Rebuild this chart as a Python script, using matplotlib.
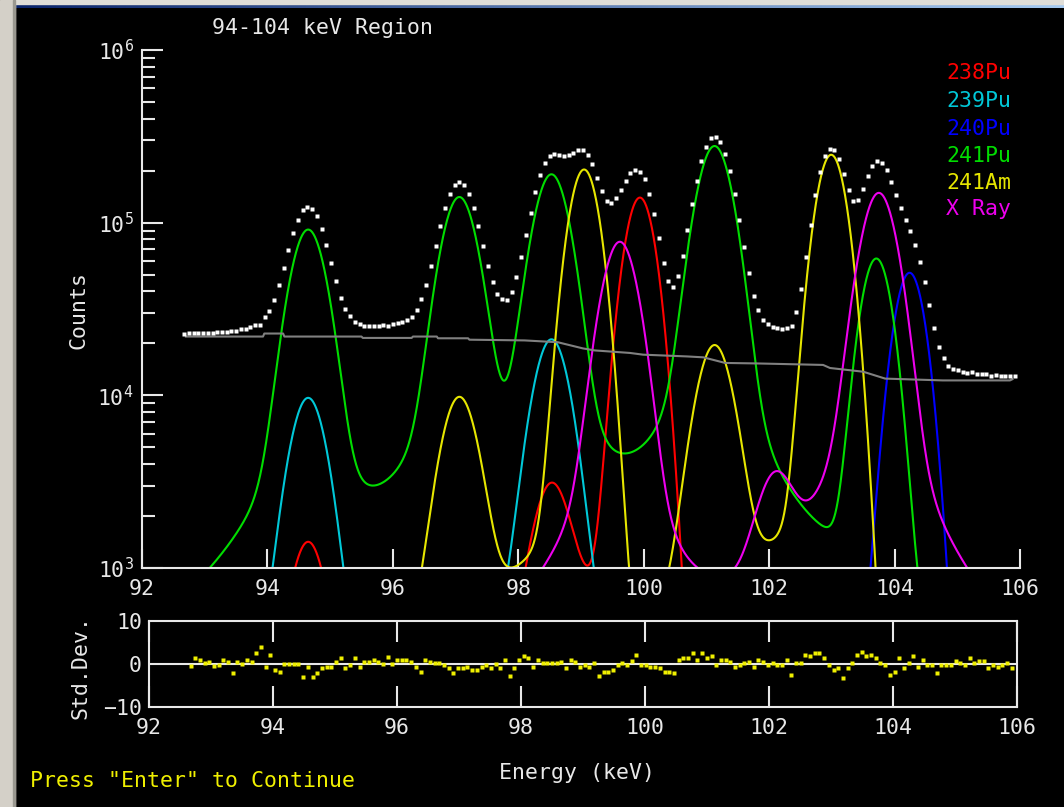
import math
import numpy as np
import matplotlib.pyplot as plt
from matplotlib.patches import Rectangle
from matplotlib.colors import LinearSegmentedColormap
from matplotlib.ticker import LogLocator, NullFormatter

plt.rcParams['font.family'] = ['DejaVu Sans Mono', 'DejaVu Sans']

# Fitted peak components read off the display: energy (keV), peak counts,
# natural (Lorentzian) width in keV -- 0 for gamma lines, K x-rays are wider
pu238_e = [94.65, 98.53, 99.94]
pu238_h = [1.40e3, 2.70e3, 1.39e5]
pu238_w = [0.07, 0.07, 0.0]

pu239_e = [94.65, 98.53]
pu239_h = [9.6e3, 2.10e4]
pu239_w = [0.07, 0.07]

pu240_e = [104.24]
pu240_h = [5.1e4]
pu240_w = [0.0]

pu241_e = [94.65, 97.06, 98.53, 101.13, 103.71]
pu241_h = [9.0e4, 1.38e5, 1.88e5, 2.76e5, 6.1e4]
pu241_w = [0.07, 0.07, 0.07, 0.07, 0.0]

am241_e = [97.06, 99.05, 101.13, 102.99]
am241_h = [9.4e3, 2.02e5, 1.90e4, 2.46e5]
am241_w = [0.07, 0.0, 0.07, 0.0]

xray_e = [99.62, 102.10, 103.75]
xray_h = [7.7e4, 2.4e3, 1.48e5]
xray_w = [0.07, 0.07, 0.07]

# continuum under the peaks (grey line)
bg_e = [92.70, 93.93, 93.95, 94.25, 94.27, 95.50, 95.52, 96.30, 96.32, 96.70, 96.72,
        97.20, 97.22, 98.10, 98.63, 99.03, 99.22, 99.78, 99.99, 100.69, 100.95,
        101.30, 101.81, 102.86, 102.97, 103.50, 103.85, 104.77, 105.84, 105.88]
bg_c = [21900, 21900, 22800, 22800, 21900, 21900, 21500, 21500, 21900, 21900, 21400,
        21400, 21000, 20800, 20300, 18700, 18200, 17600, 17200, 16800, 16600,
        15400, 15300, 15000, 14400, 13700, 12500, 12200, 12200, 12400]

# fit residuals per channel (std. dev.)
resid = [-0.4, 1.4, 1.0, 0.2, 0.5, -0.4, -0.2, 1.0, 0.4, -2.0, 0.4, 0.1, 1.0, 0.5, 2.5,
         4.0, -0.6, 2.1, -1.4, -1.8, 0.1, 0.1, 0.1, 0.1, -3.0, -0.6, -3.0, -2.2, -1.0, -0.6,
         -0.6, 0.5, 1.3, -1.0, -0.2, 1.3, -0.6, 0.4, 0.5, 1.0, 0.5, 0.1, 1.7, 0.1,
         1.0, 1.0, 1.0, 0.5, -0.6, -1.8, 1.0, 0.4, 0.2, 0.2, -0.2, -1.0, -2.2, -1.0, -1.0,
         -0.6, -1.4, -1.4, -0.6, -0.2, -1.0, 0.1, -1.0, 1.0, -2.9, -1.0, 1.0, 1.8, 1.4, -0.6,
         1.0, 0.2, 0.2, 0.2, 0.2, 0.5, -1.0, 1.0, 0.5, -0.6, -0.2, -0.6, 0.2, -2.9, -1.8, -1.8,
         -1.4, -0.2, 0.2, -0.2, 0.6, 2.2, -0.2, -0.2, -0.6, -0.6, -1.0, -1.8, -1.8, -2.2, 1.0,
         1.5, 1.3, 2.6, 1.0, 2.6, 1.3, 1.8, -0.2, 1.0, 1.0, 0.5, -0.6, -0.2, 0.2, 0.5,
         -0.6, 1.0, 0.5, -0.2, 0.2, -0.2, -0.2, 1.0, -2.5, 0.2, 0.2, 2.1, 1.8, 2.6, 2.6, 1.4,
         -0.2, -1.4, -1.0, -3.3, -1.0, 0.2, 2.2, 2.9, 1.8, 2.2, 1.4, 0.2, -0.2, -2.5, -1.8,
         1.4, -1.0, 0.2, 1.8, -0.6, 1.0, -0.2, -0.2, -2.1, -0.2, -0.2, -0.2, 0.6, 0.2, -0.2,
         1.4, 0.2, 0.6, 0.6, -1.0, -0.2, -0.6, -0.2, 0.2, -1.0]

E0 = 92.67      # first channel energy
DE = 0.0757     # keV per channel

# detector response
FWHM_GAMMA = 0.50
FWHM_XRAY_G = 0.55
TAIL_AMP = 0.012
TAIL_SLOPE = 1.0

erf = np.vectorize(math.erf)


def peak(x, c, h, wl):
    d = x - c
    if wl > 0:
        fg = FWHM_XRAY_G
        f = (fg**5 + 2.69269*fg**4*wl + 2.42843*fg**3*wl**2 + 4.47163*fg**2*wl**3
             + 0.07842*fg*wl**4 + wl**5) ** 0.2
        r = wl / f
        eta = 1.36603*r - 0.47719*r**2 + 0.11116*r**3
    else:
        f = FWHM_GAMMA
        eta = 0.0
    core = eta / (1 + (2*d/f)**2) + (1 - eta) * np.exp(-4*np.log(2)*d**2/f**2)
    s = FWHM_GAMMA / 2.3548
    z = d/(np.sqrt(2)*s) + s/(np.sqrt(2)*TAIL_SLOPE)
    tail = TAIL_AMP * np.exp(np.minimum(d, 5)/TAIL_SLOPE) * 0.5 * (1 - erf(z))
    return h * (core + tail)


def component(x, es, hs, ws):
    return sum(peak(x, e, h, w) for e, h, w in zip(es, hs, ws))


comps = [
    ('238Pu', '#ff0000', pu238_e, pu238_h, pu238_w),
    ('239Pu', '#00c8d8', pu239_e, pu239_h, pu239_w),
    ('240Pu', '#0000ff', pu240_e, pu240_h, pu240_w),
    ('241Pu', '#00dd00', pu241_e, pu241_h, pu241_w),
    ('241Am', '#e6e600', am241_e, am241_h, am241_w),
    ('X Ray', '#ee00ee', xray_e, xray_h, xray_w),
]

chan = E0 + DE*np.arange(len(resid))
x_fine = np.arange(chan[0], chan[-1], 0.005)

model = np.interp(chan, bg_e, bg_c)
for _, _, es, hs, ws in comps:
    model = model + component(chan, es, hs, ws)
data = model + np.array(resid)*np.sqrt(model)

W, H = 1064, 807
fig = plt.figure(figsize=(W/100, H/100), dpi=100, facecolor='black')

fg_col = '#e8e8e8'
fs = 15.5

# main spectrum panel
ax = fig.add_axes([142/W, 1 - 568/H, 878/W, 518/H])
ax.set_facecolor('black')
ax.set_yscale('log')
ax.set_xlim(92, 106)
ax.set_ylim(1e3, 1e6)

for name, col, es, hs, ws in comps:
    ax.plot(x_fine, component(x_fine, es, hs, ws), color=col, lw=1.5)
ax.plot(bg_e, bg_c, color='#808080', lw=1.5)
ax.plot(chan, data, ls='none', marker='s', ms=2.6, mec='none', mfc='white')

for sp in ['top', 'right']:
    ax.spines[sp].set_visible(False)
for sp in ['left', 'bottom']:
    ax.spines[sp].set_color(fg_col)
    ax.spines[sp].set_linewidth(1.5)
ax.set_xticks(np.arange(92, 107, 2))
ax.yaxis.set_major_locator(LogLocator(base=10, numticks=10))
ax.yaxis.set_minor_locator(LogLocator(base=10, subs=np.arange(2, 10), numticks=20))
ax.yaxis.set_minor_formatter(NullFormatter())
ax.tick_params(axis='x', direction='in', length=14, width=1.5, color=fg_col,
               labelcolor=fg_col, labelsize=fs, pad=8)
ax.tick_params(axis='y', which='major', direction='in', length=15, width=1.5,
               color=fg_col, labelcolor=fg_col, labelsize=fs, pad=6)
ax.tick_params(axis='y', which='minor', direction='in', length=9, width=1.5,
               color=fg_col)

# residual panel
rx = fig.add_axes([149/W, 1 - 707/H, 868/W, 86/H])
rx.set_facecolor('black')
rx.set_xlim(92, 106)
rx.set_ylim(-10, 10)
rx.axhline(0, color=fg_col, lw=1.5)
rx.plot(chan, resid, ls='none', marker='s', ms=2.6, mec='none', mfc='#f0f000')
for sp in rx.spines.values():
    sp.set_color(fg_col)
    sp.set_linewidth(1.5)
rx.set_xticks(np.arange(92, 107, 2))
rx.set_yticks([-10, 0, 10])
rx.tick_params(axis='x', direction='in', length=15, width=1.5, color=fg_col,
               labelcolor=fg_col, labelsize=fs, top=True, pad=8)
rx.tick_params(axis='y', length=0, labelcolor=fg_col, labelsize=fs, pad=5)

# texts
fig.text(323/W, 1 - 28/H, '94-104 keV Region', color=fg_col, fontsize=fs,
         ha='center', va='center')
fig.text(78/W, 1 - 310/H, 'Counts', color=fg_col, fontsize=fs, rotation=90,
         ha='center', va='center')
fig.text(80/W, 1 - 667/H, 'Std.Dev.', color=fg_col, fontsize=fs, rotation=90,
         ha='center', va='center')
fig.text(577/W, 1 - 773/H, 'Energy (keV)', color=fg_col, fontsize=fs,
         ha='center', va='center')
fig.text(30/W, 1 - 781/H, 'Press "Enter" to Continue', color='#f0f000',
         fontsize=fs, ha='left', va='center')

legend_y = [73, 101, 129, 156, 183, 209]
for (name, col, _, _, _), yy in zip(comps, legend_y):
    fig.text(946/W, 1 - yy/H, name, color=col, fontsize=fs, ha='left', va='center')

# window frame
fig.patches.append(Rectangle((0, 0), 15/W, 1, transform=fig.transFigure,
                             color='#d4d0c8', zorder=5))
fig.patches.append(Rectangle((13/W, 0), 2/W, 1, transform=fig.transFigure,
                             color='#9a9890', zorder=6))
fig.patches.append(Rectangle((15/W, 1 - 4/H), 1, 4/H, transform=fig.transFigure,
                             color='#e0ded8', zorder=5))
bar = fig.add_axes([15/W, 1 - 8/H, 1 - 15/W, 4/H])
bar.imshow(np.linspace(0, 1, 256)[None, :], aspect='auto',
           cmap=LinearSegmentedColormap.from_list('tb', ['#0a246a', '#a6caf0']))
bar.axis('off')

fig.savefig('out.png', dpi=100, facecolor='black')
